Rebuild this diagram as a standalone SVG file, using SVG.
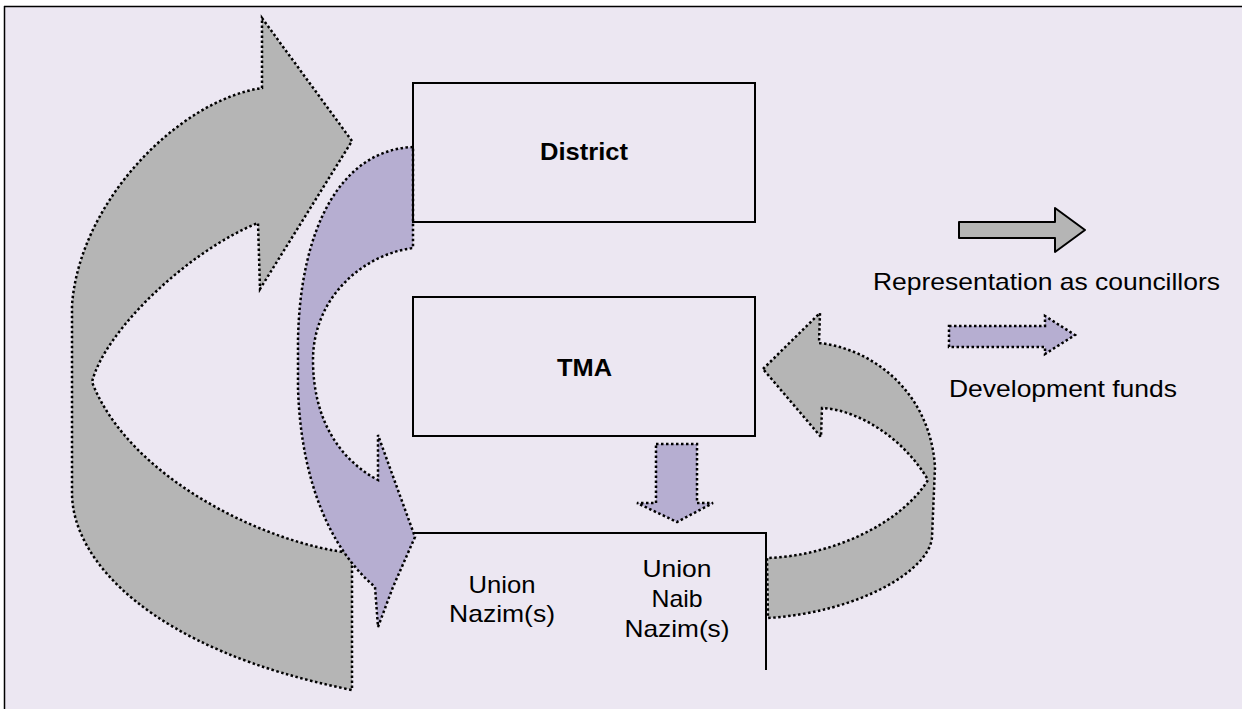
<svg xmlns="http://www.w3.org/2000/svg" width="1242" height="709" viewBox="0 0 1242 709">
<style>
.txt{font-family:"Liberation Sans",Arial,sans-serif;fill:#000;font-size:24px}
.bold{font-weight:bold}
.gray{fill:#B5B5B5;stroke:#000;stroke-width:2.5;stroke-dasharray:2.5 2.5}
.lav{fill:#B6AED1;stroke:#000;stroke-width:2.5;stroke-dasharray:2.5 2.5}
.box{fill:none;stroke:#000;stroke-width:2}
</style>
<rect x="0" y="0" width="1242" height="709" fill="#FFFFFF"/>
<rect x="5" y="7" width="1240" height="705" fill="#ECE7F2"/>
<line x1="4.5" y1="6" x2="4.5" y2="709" stroke="#000" stroke-width="1.5"/>
<line x1="4" y1="6.5" x2="1242" y2="6.5" stroke="#000" stroke-width="1.5"/>
<g id="connectors">
<path class="gray" d="M352,141 L262,18 L262,88 C180,100 80,200 72,305 L72,493 C72,560 150,650 352,690 L352,553 C270,545 130,480 92,382 C105,330 190,250 258,223 L260,289 Z"/>
<path class="lav" d="M413,147 C340,150 300,230 298,340 L298,388 C300,460 320,540 375,587 L378,627 L393,587 L415,537 L378,435 L378,480 C340,460 313,420 313,360 C313,300 360,255 413,248 Z"/>
<path class="lav" d="M656,444 L697,444 L697,503 L713,503 L677,522 L637,503 L656,503 Z"/>
<path class="gray" d="M763,369 L820,313 L819,343 C870,348 930,390 935,467 L932,537 C930,570 860,612 768,618 L767,558 C830,556 900,525 928,480 C905,440 860,410 822,408 L821,437 Z"/>
</g>
<g id="district">
<rect class="box" x="413" y="83" width="342" height="139"/>
<text class="txt bold" x="584" y="160" text-anchor="middle" textLength="88" lengthAdjust="spacingAndGlyphs">District</text>
</g>
<g id="tma">
<rect class="box" x="413" y="297" width="342" height="139"/>
<text class="txt bold" x="584.5" y="376" text-anchor="middle" textLength="55" lengthAdjust="spacingAndGlyphs">TMA</text>
</g>
<g id="union">
<polyline class="box" points="413,533 766,533 766,670"/>
<text class="txt" x="502" y="593" text-anchor="middle" textLength="67" lengthAdjust="spacingAndGlyphs">Union</text>
<text class="txt" x="502" y="622" text-anchor="middle" textLength="106" lengthAdjust="spacingAndGlyphs">Nazim(s)</text>
<text class="txt" x="677" y="577" text-anchor="middle" textLength="69" lengthAdjust="spacingAndGlyphs">Union</text>
<text class="txt" x="677" y="607" text-anchor="middle" textLength="51" lengthAdjust="spacingAndGlyphs">Naib</text>
<text class="txt" x="677" y="637" text-anchor="middle" textLength="105" lengthAdjust="spacingAndGlyphs">Nazim(s)</text>
</g>
<g id="legend-representation">
<path d="M959,222 L1055,222 L1055,208 L1085,230 L1055,252 L1055,238 L959,238 Z" fill="#B5B5B5" stroke="#000" stroke-width="2" stroke-linejoin="round"/>
<text class="txt" x="873" y="290" textLength="347" lengthAdjust="spacingAndGlyphs">Representation as councillors</text>
</g>
<g id="legend-funds">
<path class="lav" d="M949,326 L1045,326 L1045,316 L1075,335 L1045,354 L1045,347 L949,347 Z"/>
<text class="txt" x="949" y="397" textLength="228" lengthAdjust="spacingAndGlyphs">Development funds</text>
</g>
</svg>
